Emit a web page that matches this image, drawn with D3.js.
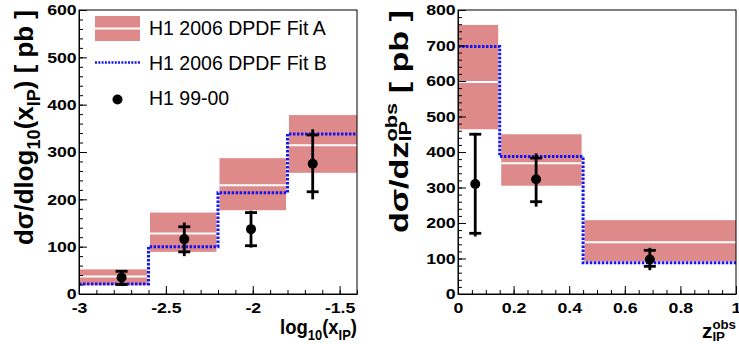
<!DOCTYPE html>
<html>
<head>
<meta charset="utf-8">
<script src="https://cdn.jsdelivr.net/npm/d3@7"></script>
<style>
  body { margin: 0; background: #fff; }
  text { white-space: pre; }
</style>
</head>
<body>
<script>
// ---- data ----
const leftBinEdges = [-3, -2.6, -2.2, -1.8, -1.4];
const leftFitA     = [37, 128, 230, 314];
const leftFitALow  = [19, 89, 177, 256];
const leftFitAHigh = [52, 172, 287, 378];
const leftFitB     = [21, 100, 214, 338];
const leftDataX    = [-2.755, -2.394, -2.01, -1.655];
const leftDataY    = [35, 116, 137, 275];
const leftStatUp   = [13, 26, 35, 61];
const leftStatDown = [15, 27, 35, 59];
const leftTotUp    = [15, 35, 39, 73];
const leftTotDown  = [17, 36, 39, 75];
const leftXTicks   = [-3, -2.5, -2, -1.5];
const leftYTicks   = [0, 100, 200, 300, 400, 500, 600];

const rightBinEdges = [0, 0.15, 0.45, 1.0];
const rightFitA     = [597, 368, 146];
const rightFitALow  = [464, 305, 92];
const rightFitAHigh = [758, 450, 208];
const rightFitB     = [697, 387, 88];
const rightDataX    = [0.062, 0.281, 0.69];
const rightDataY    = [310, 323, 97];
const rightStatUp   = [140, 60, 26];
const rightStatDown = [139, 63, 19];
const rightTotUp    = [144, 73, 33];
const rightTotDown  = [148, 77, 30];
const rightXTicks   = [0, 0.2, 0.4, 0.6, 0.8, 1];
const rightYTicks   = [0, 100, 200, 300, 400, 500, 600, 700, 800];

const legendLabels = ['H1 2006 DPDF Fit A', 'H1 2006 DPDF Fit B', 'H1 99-00'];

const bandColor = '#de8a8a';
const fitBColor = '#1414f5';
const FONT = '"Liberation Sans", Arial, Helvetica, sans-serif';

const svg = d3.select('body').append('svg')
  .attr('width', 739).attr('height', 344)
  .style('font-family', FONT);

// text built from pieces: normal, sub, sup, or stacked sup/sub
function richText(parent, parts, size) {
  const g = parent.append('g').attr('font-weight', 'bold');
  let x = 0;
  parts.forEach(p => {
    if (p.stack) {
      const a = g.append('text').attr('x', x).attr('y', -0.45 * size)
        .attr('font-size', 0.64 * size).text(p.stack[0]);
      const b = g.append('text').attr('x', x).attr('y', 0.12 * size)
        .attr('font-size', 0.64 * size).text(p.stack[1]);
      x += Math.max(a.node().getComputedTextLength(), b.node().getComputedTextLength());
    } else {
      const small = p.sub || p.sup;
      const t = g.append('text').attr('x', x)
        .attr('y', p.sub ? 0.28 * size : p.sup ? -0.4 * size : 0)
        .attr('font-size', small ? 0.7 * size : size).text(p.t);
      x += t.node().getComputedTextLength();
    }
  });
  return { g, width: x };
}

function panel(o) {
  const g = svg.append('g');
  const x = d3.scaleLinear().domain(o.xDomain).range([o.left, o.right]);
  const y = d3.scaleLinear().domain(o.yDomain).range([o.bottom, o.top]);
  const n = o.fitA.length;
  const first = o.edges[0], last = o.edges[o.edges.length - 1];

  // Fit A bands with white central line
  for (let i = 0; i < n; i++) {
    const x0 = x(o.edges[i]) + (o.edges[i] === first ? 0 : 1.5);
    const x1 = x(o.edges[i + 1]) - (o.edges[i + 1] === last ? 0 : 1.5);
    g.append('rect')
      .attr('x', x0).attr('width', x1 - x0)
      .attr('y', y(o.fitAHigh[i])).attr('height', y(o.fitALow[i]) - y(o.fitAHigh[i]))
      .attr('fill', bandColor);
    g.append('line')
      .attr('x1', x0).attr('x2', x1)
      .attr('y1', y(o.fitA[i])).attr('y2', y(o.fitA[i]))
      .attr('stroke', '#fff').attr('stroke-width', 2);
  }

  // Fit B dotted step line
  const steps = o.fitB.map((v, i) => [o.edges[i], v]);
  steps.push([last, o.fitB[n - 1]]);
  g.append('path')
    .datum(steps)
    .attr('fill', 'none')
    .attr('stroke', fitBColor)
    .attr('stroke-width', 3)
    .attr('stroke-dasharray', '2.5,1.5')
    .attr('d', d3.line().x(d => x(d[0])).y(d => y(d[1])).curve(d3.curveStepAfter));

  // data points with stat (ticks) and total (line) errors
  o.dataX.forEach((dx, i) => {
    const cx = x(dx), cy = o.dataY[i];
    g.append('line')
      .attr('x1', cx).attr('x2', cx)
      .attr('y1', y(cy + o.totUp[i])).attr('y2', y(cy - o.totDown[i]))
      .attr('stroke', '#000').attr('stroke-width', 2.8);
    [cy + o.statUp[i], cy - o.statDown[i]].forEach(v => {
      g.append('line')
        .attr('x1', cx - 6).attr('x2', cx + 6)
        .attr('y1', y(v)).attr('y2', y(v))
        .attr('stroke', '#000').attr('stroke-width', 2.8);
    });
    g.append('circle').attr('cx', cx).attr('cy', y(cy)).attr('r', 5).attr('fill', '#000');
  });

  // axes, ticks inside the frame
  const fmt = d => String(d);
  const yMinor = d3.range(o.yDomain[0], o.yDomain[1] + 1e-9, 20);
  const xMinor = d3.range(o.xDomain[0], o.xDomain[1] + 1e-9, o.xMinorStep);

  g.append('g').attr('transform', `translate(${o.left},0)`)
    .call(d3.axisLeft(y).tickValues(yMinor).tickSize(-4).tickFormat(''))
    .call(a => a.select('.domain').remove());
  g.append('g').attr('transform', `translate(0,${o.bottom})`)
    .call(d3.axisBottom(x).tickValues(xMinor).tickSize(-4).tickFormat(''))
    .call(a => a.select('.domain').remove());

  const yAx = g.append('g').attr('transform', `translate(${o.left},0)`)
    .call(d3.axisLeft(y).tickValues(o.yTicks).tickSize(-8).tickSizeOuter(0).tickPadding(2).tickFormat(fmt));
  const xAx = g.append('g').attr('transform', `translate(0,${o.bottom})`)
    .call(d3.axisBottom(x).tickValues(o.xTicks).tickSize(-8).tickSizeOuter(0).tickPadding(8).tickFormat(fmt));
  [yAx, xAx].forEach(a => {
    a.selectAll('text')
      .attr('fill', '#000')
      .style('font-family', FONT)
      .attr('font-weight', 'bold')
      .attr('font-size', 15)
      .attr('transform', 'scale(1.18,1)');
  });
  g.selectAll('.tick line').attr('stroke', '#000');

  g.append('rect')
    .attr('x', o.left).attr('y', o.top)
    .attr('width', o.right - o.left).attr('height', o.bottom - o.top)
    .attr('fill', 'none').attr('stroke', '#000').attr('stroke-width', 1);

  // y title, rotated, right-aligned to the top
  const yt = richText(g, o.yTitle, 25);
  const sy = o.yTitleLen / yt.width;
  yt.g.attr('transform',
    `translate(${o.yTitleX},${o.top + o.yTitleLen}) rotate(-90) scale(${sy},1)`);

  // x title, right-aligned to the frame
  const xt = richText(g, o.xTitle, 21);
  const sx = o.xTitleLen / xt.width;
  xt.g.attr('transform',
    `translate(${o.right - o.xTitleLen},${o.xTitleY}) scale(${sx},1)`);

  return { g, x, y };
}

panel({
  left: 79, right: 357, top: 10, bottom: 294,
  xDomain: [-3, -1.4], yDomain: [0, 600], xMinorStep: 0.1,
  edges: leftBinEdges, fitA: leftFitA, fitALow: leftFitALow, fitAHigh: leftFitAHigh,
  fitB: leftFitB, dataX: leftDataX, dataY: leftDataY,
  statUp: leftStatUp, statDown: leftStatDown, totUp: leftTotUp, totDown: leftTotDown,
  xTicks: leftXTicks, yTicks: leftYTicks,
  yTitle: [{ t: 'd\u03c3/dlog' }, { t: '10', sub: true }, { t: '(x' }, { t: 'IP', sub: true }, { t: ') [ pb ]' }],
  yTitleX: 33, yTitleLen: 235,
  xTitle: [{ t: 'log' }, { t: '10', sub: true }, { t: '(x' }, { t: 'IP', sub: true }, { t: ')' }],
  xTitleY: 334, xTitleLen: 77,
});

panel({
  left: 458, right: 736, top: 10, bottom: 294,
  xDomain: [0, 1], yDomain: [0, 800], xMinorStep: 0.05,
  edges: rightBinEdges, fitA: rightFitA, fitALow: rightFitALow, fitAHigh: rightFitAHigh,
  fitB: rightFitB, dataX: rightDataX, dataY: rightDataY,
  statUp: rightStatUp, statDown: rightStatDown, totUp: rightTotUp, totDown: rightTotDown,
  xTicks: rightXTicks, yTicks: rightYTicks,
  yTitle: [{ t: 'd\u03c3/dz' }, { stack: ['obs', 'IP'] }, { t: ' [ pb ]' }],
  yTitleX: 408, yTitleLen: 223,
  xTitle: [{ t: 'z' }, { stack: ['obs', 'IP'] }],
  xTitleY: 338, xTitleLen: 34,
});

// legend (left panel)
const lg = svg.append('g');
lg.append('rect').attr('x', 95).attr('y', 16).attr('width', 45).attr('height', 25).attr('fill', bandColor);
lg.append('line').attr('x1', 95).attr('x2', 140).attr('y1', 28.5).attr('y2', 28.5)
  .attr('stroke', '#fff').attr('stroke-width', 2);
lg.append('line').attr('x1', 95).attr('x2', 140).attr('y1', 62.5).attr('y2', 62.5)
  .attr('stroke', fitBColor).attr('stroke-width', 2.5).attr('stroke-dasharray', '2,1.3');
lg.append('circle').attr('cx', 117.5).attr('cy', 99.5).attr('r', 5).attr('fill', '#000');
legendLabels.forEach((lab, i) => {
  lg.append('text')
    .attr('x', 149).attr('y', 35 + i * 35)
    .attr('font-size', 19.5)
    .attr('fill', '#000')
    .text(lab);
});
</script>
</body>
</html>
